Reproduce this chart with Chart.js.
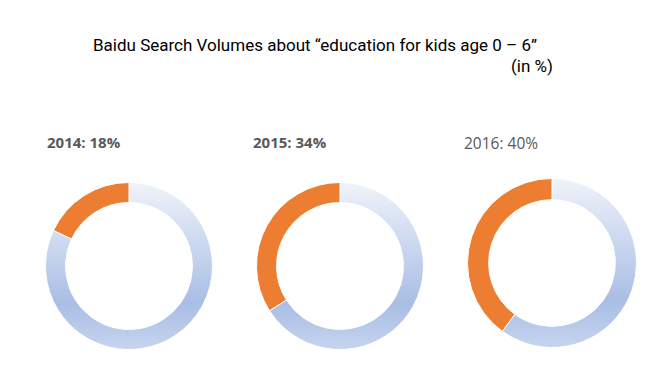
<!DOCTYPE html>
<html>
<head>
<meta charset="utf-8">
<script src="https://cdn.jsdelivr.net/npm/chart.js@4"></script>
<style>
  body { margin: 0; background: #fff; }
  #page { position: relative; width: 670px; height: 376px; overflow: hidden; }
  .title { position: absolute; font-family: Roboto, sans-serif; font-size: 17px; color: #000; white-space: nowrap; line-height: 18px; }
  .year { position: absolute; font-family: "Open Sans", sans-serif; color: #595959; white-space: nowrap; line-height: 16px; }
  .box { position: absolute; }
</style>
</head>
<body>
<div id="page">
  <div class="title" style="left:93px; top:36px;">Baidu Search Volumes about “education for kids age 0 – 6”</div>
  <div class="title" style="left:511px; top:57px;">(in %)</div>
</div>
<script>
// search share per year, orange part vs rest of the ring
const years = ['2014', '2015', '2016'];
const kidsShare = [18, 34, 40];
const otherShare = [82, 66, 60];
const labelText = ['2014: 18%', '2015: 34%', '2016: 40%'];

// where each ring sits
let rings = [
    { cx: 129, cy: 266, r: 83, cut: '76%', lx: 47, ly: 134, bold: true, size: 15 },
    { cx: 340, cy: 266, r: 83, cut: '76%', lx: 253, ly: 134, bold: true, size: 15 },
    { cx: 552, cy: 263, r: 84, cut: '75%', lx: 464, ly: 135, bold: false, size: 15.5 }
];

function blueGradient(context) {
    let chart = context.chart;
    let area = chart.chartArea;
    if (!area) return '#b8c9ea';
    let g = chart.ctx.createLinearGradient(0, area.top, 0, area.bottom);
    g.addColorStop(0, '#f0f3fa');
    g.addColorStop(0.72, '#a9bee5');
    g.addColorStop(1, '#c6d4ee');
    return g;
}

let page = document.getElementById('page');
for (let i = 0; i < years.length; i++) {
    let p = rings[i];

    let lab = document.createElement('div');
    lab.className = 'year';
    lab.style.left = p.lx + 'px';
    lab.style.top = p.ly + 'px';
    lab.style.fontSize = p.size + 'px';
    lab.style.fontWeight = p.bold ? '700' : '400';
    lab.textContent = labelText[i];
    page.appendChild(lab);

    let box = document.createElement('div');
    box.className = 'box';
    let size = p.r * 2 + 2;
    box.style.left = (p.cx - size / 2) + 'px';
    box.style.top = (p.cy - size / 2) + 'px';
    box.style.width = size + 'px';
    box.style.height = size + 'px';
    let cv = document.createElement('canvas');
    cv.id = 'ring' + years[i];
    box.appendChild(cv);
    page.appendChild(box);

    new Chart(cv.getContext('2d'), {
        type: 'doughnut',
        data: {
            labels: ['Other', 'Education for kids 0-6'],
            datasets: [{
                data: [otherShare[i], kidsShare[i]],
                backgroundColor: function (ctx) {
                    return ctx.dataIndex == 0 ? blueGradient(ctx) : '#ed7d31';
                },
                borderColor: '#ffffff',
                borderWidth: 1
            }]
        },
        options: {
            responsive: true,
            maintainAspectRatio: false,
            animation: false,
            cutout: p.cut,
            rotation: 0,
            layout: { padding: 0 },
            plugins: {
                legend: { display: false },
                tooltip: { enabled: false }
            }
        }
    });
}
</script>
</body>
</html>
